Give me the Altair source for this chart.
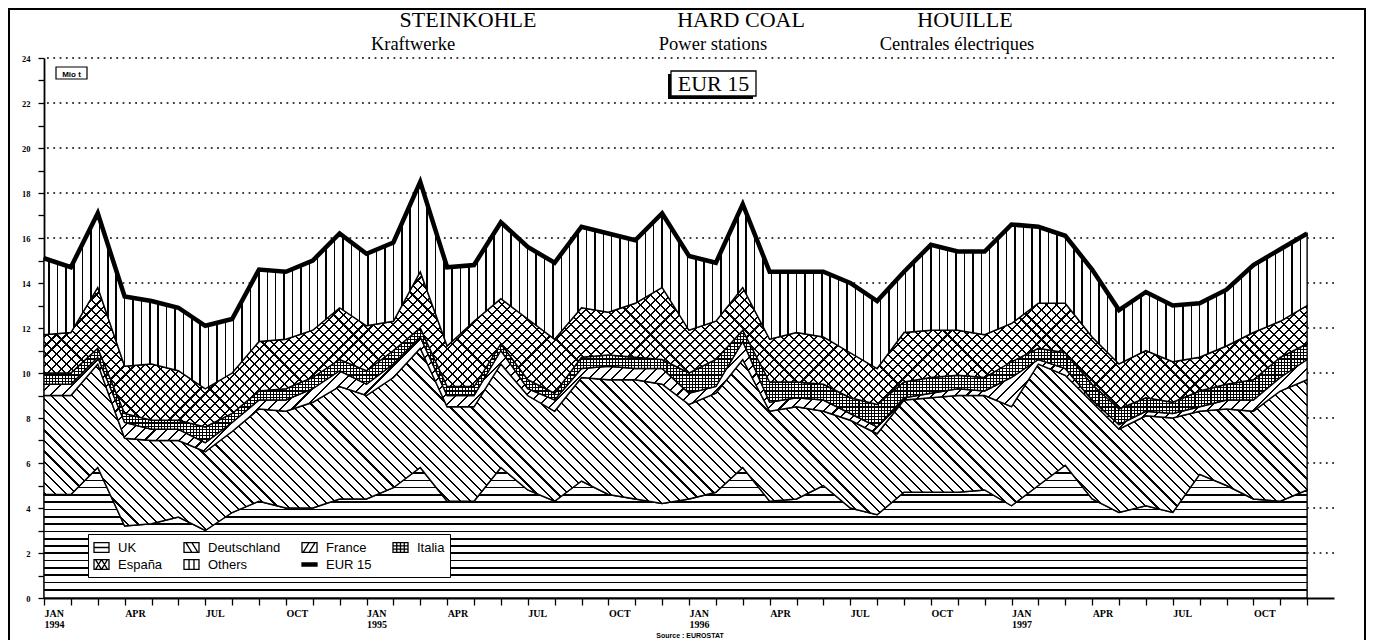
import json
import math
import numpy as np
import pandas as pd
import altair as alt

# ---------------- data (Mio t, monthly Jan 1994 - Dec 1997) ----------------
month_names = ["JAN", "FEB", "MAR", "APR", "MAY", "JUN",
               "JUL", "AUG", "SEP", "OCT", "NOV", "DEC"]
years = [1994, 1995, 1996, 1997]
series_names = ["UK", "Deutschland", "France", "Italia", "España", "Others"]

uk = [4.6, 4.6, 5.8, 3.2, 3.3, 3.6, 3.0, 3.8, 4.3, 4.0, 4.0, 4.4,
      4.4, 4.9, 5.8, 4.3, 4.3, 5.8, 4.8, 4.3, 5.2, 4.6, 4.4, 4.2,
      4.4, 4.7, 5.8, 4.3, 4.4, 5.0, 4.0, 3.7, 4.7, 4.7, 4.7, 4.8,
      4.1, 5.0, 5.9, 4.4, 3.8, 4.1, 3.8, 5.5, 5.0, 4.4, 4.3, 4.8]
deutschland = [4.4, 4.4, 4.6, 3.9, 3.7, 3.4, 3.5, 3.6, 4.1, 4.3, 4.7, 5.0,
               4.6, 4.9, 5.3, 4.2, 4.2, 4.6, 4.2, 4.0, 4.6, 5.1, 5.3, 5.3,
               4.2, 4.4, 4.8, 4.0, 4.1, 3.3, 3.9, 3.6, 4.1, 4.2, 4.3, 4.2,
               4.4, 5.4, 4.0, 4.3, 3.7, 4.0, 4.2, 2.8, 3.4, 3.9, 4.9, 4.9]
france = [0.5, 0.5, 0.3, 0.7, 0.5, 0.5, 0.4, 0.4, 0.4, 0.5, 0.6, 0.7,
          0.5, 0.6, 0.5, 0.5, 0.5, 0.6, 0.3, 0.5, 0.4, 0.6, 0.5, 0.7,
          0.5, 0.3, 0.8, 0.4, 0.4, 0.5, 0.3, 0.3, 0.1, 0.2, 0.3, 0.2,
          1.3, 0.2, 0.3, 0.1, 0.2, 0.2, 0.2, 0.2, 0.4, 0.5, 0.6, 0.9]
italia = [0.5, 0.5, 0.4, 0.4, 0.4, 0.4, 0.7, 0.4, 0.4, 0.5, 0.5, 0.5,
          0.6, 0.6, 0.4, 0.4, 0.4, 0.3, 0.4, 0.3, 0.5, 0.5, 0.5, 0.4,
          0.9, 1.2, 0.5, 0.9, 0.7, 0.7, 0.7, 1.0, 0.7, 0.7, 0.6, 0.6,
          0.7, 0.5, 0.7, 0.7, 0.7, 0.6, 0.5, 0.7, 0.7, 0.9, 0.9, 0.7]
espana = [1.7, 1.8, 2.7, 2.1, 2.5, 2.2, 1.7, 1.8, 2.2, 2.2, 2.1, 2.3,
          2.0, 1.3, 2.5, 1.8, 2.9, 2.0, 2.7, 2.4, 2.2, 1.9, 2.4, 3.2,
          1.9, 1.7, 1.9, 1.9, 2.2, 2.1, 2.0, 1.6, 2.2, 2.1, 2.0, 1.9,
          1.7, 2.0, 2.2, 2.1, 2.0, 2.1, 1.8, 1.5, 1.7, 2.1, 1.6, 1.7]
others = [3.4, 2.9, 3.3, 3.1, 2.8, 2.8, 2.8, 2.4, 3.2, 3.0, 3.1, 3.3,
          3.2, 3.5, 4.0, 3.5, 2.5, 3.4, 3.2, 3.4, 3.6, 3.5, 2.8, 3.3,
          3.3, 2.6, 3.7, 3.0, 2.7, 2.9, 3.1, 3.0, 2.7, 3.8, 3.5, 3.7,
          4.4, 3.4, 3.0, 3.0, 2.4, 2.6, 2.5, 2.4, 2.5, 3.0, 3.2, 3.2]
grid_values = [2, 4, 6, 8, 10, 12, 14, 16, 18, 20, 22, 24]

series_values = [uk, deutschland, france, italia, espana, others]
n_months = len(uk)

rows = []
for k, (name, vals) in enumerate(zip(series_names, series_values)):
    for i, v in enumerate(vals):
        rows.append({"month": i, "series": name, "value": v, "order": k})
df = pd.DataFrame(rows)

# ---------------- geometry / style ----------------
PW, PH = 1290, 540
ux = PW / 48.0
uy = PH / 24.0
W = (n_months - 1) * ux

cum = np.cumsum(np.array(series_values), axis=0)
bottoms = np.vstack([np.zeros(n_months), cum[:-1]])
bbox_h = {name: float((cum[k].max() - bottoms[k].min()) * uy)
          for k, name in enumerate(series_names)}

CLEAR = "rgba(255,255,255,0)"


def stripe_gradient(kind, h, period, lw, bg="white", first=None):
    w = W
    if kind == "h":
        x1, y1, x2, y2 = 0, 1, 0, 0
        span = h
    elif kind == "v":
        x1, y1, x2, y2 = 0, 0, 1, 0
        span = w
    else:
        r = h / w
        a = (1 + r) / (1 + r * r)
        span = (w + h) / math.sqrt(2)
        if kind == "/":
            x1, y1, x2, y2 = 0, 0, a, a * r
        else:
            x1, y1, x2, y2 = 0, 1, a, 1 - a * r
    stops = [alt.GradientStop(offset=0, color=bg)]
    p = period * 0.5 if first is None else first
    while p + lw < span:
        o1 = round(p / span, 6)
        o2 = round((p + lw) / span, 6)
        stops += [alt.GradientStop(offset=o1, color=bg),
                  alt.GradientStop(offset=o1, color="black"),
                  alt.GradientStop(offset=o2, color="black"),
                  alt.GradientStop(offset=o2, color=bg)]
        p += period
    stops.append(alt.GradientStop(offset=1, color=bg))
    return alt.LinearGradient(gradient="linear", stops=stops,
                              x1=round(x1, 6), y1=round(y1, 6),
                              x2=round(x2, 6), y2=round(y2, 6))


# ---------------- scales / axes ----------------
tick_labels = []
for i in range(n_months):
    m = i % 12
    if m == 0:
        tick_labels.append([month_names[m], str(years[i // 12])])
    elif m % 3 == 0:
        tick_labels.append(month_names[m])
    else:
        tick_labels.append("")

xscale = alt.Scale(domain=[0, 48], nice=False, zero=False)
yscale = alt.Scale(domain=[0, 24], nice=False)
xaxis = alt.Axis(values=list(range(n_months)), title=None, grid=False,
                 labelExpr=json.dumps(tick_labels) + "[datum.value]",
                 labelAlign="left", labelBaseline="top", labelPadding=3,
                 labelFont="Liberation Serif", labelFontWeight="bold",
                 labelFontSize=10, labelLineHeight=11, labelColor="black",
                 labelOverlap=False, labelFlush=False, labelBound=False,
                 tickSize=7, tickColor="black", tickWidth=1.3,
                 domainColor="black", domainWidth=1.8)
yaxis = alt.Axis(values=list(range(25)), title=None, grid=False,
                 labelExpr="datum.value % 2 == 0 ? datum.label : ''",
                 labelFont="Liberation Serif", labelFontWeight="bold",
                 labelFontSize=8.5, labelColor="black", labelPadding=8,
                 labelOverlap=False, labelFlush=False,
                 tickSize=6, tickColor="black", tickWidth=1.3,
                 domainColor="black", domainWidth=1.8)


def X(field):
    return alt.X(field, type="quantitative", scale=xscale, axis=xaxis)


def Y(field):
    return alt.Y(field, type="quantitative", scale=yscale, axis=yaxis)


base = alt.Chart(df).transform_stack(
    stack="value", groupby=["month"], as_=["y0", "y1"],
    sort=[alt.SortField("order", order="ascending")])

grid = alt.Chart(pd.DataFrame({"g": grid_values})).mark_rule(
    color="black", strokeWidth=1.6, strokeDash=[1.8, 4.5]).encode(y=Y("g"))

patterns = {
    "UK": [("h", 7.3, 1.7, "white")],
    "Deutschland": [("\\", 7.4, 1.5, "white")],
    "France": [("/", 8.2, 1.5, "white")],
    "Italia": [("h", 3.2, 1.1, "white"), ("v", 3.2, 1.1, CLEAR)],
    "España": [("\\", 7.0, 1.5, "white"), ("/", 7.0, 1.5, CLEAR)],
    "Others": [("v", 8.4, 1.5, "white")],
}

areas = []
for name in series_names:
    for j, (kind, period, lw, bg) in enumerate(patterns[name]):
        first = period if kind == "h" else None
        grad = stripe_gradient(kind, bbox_h[name], period, lw, bg, first)
        if j == 0:
            mk = base.mark_area(fill=grad, stroke="black", strokeWidth=1.4)
        else:
            mk = base.mark_area(fill=grad, strokeWidth=0)
        areas.append(mk.transform_filter(alt.datum.series == name).encode(
            x=X("month"), y=Y("y1"), y2=alt.Y2("y0")))

total = alt.Chart(df).transform_aggregate(
    total="sum(value)", groupby=["month"]).mark_line(
    color="black", strokeWidth=4.5).encode(x=X("month"), y=Y("total"))

one = alt.Data(values=[{}])


def txt(s, x, y, size, font="Liberation Serif", weight="normal"):
    return alt.Chart(one).mark_text(
        text=s, font=font, fontSize=size, fontWeight=weight, align="center",
        baseline="alphabetic", color="black").encode(
        x=alt.value(x), y=alt.value(y))


def box(x, x2, y, y2, fill, stroke=None, sw=1.0):
    kw = {"fill": fill}
    if stroke is not None:
        kw.update(stroke=stroke, strokeWidth=sw)
    return alt.Chart(one).mark_rect(**kw).encode(
        x=alt.value(x), x2=alt.value(x2), y=alt.value(y), y2=alt.value(y2))


annots = [
    txt("STEINKOHLE", 424, -31, 22),
    txt("HARD COAL", 697, -31, 22),
    txt("HOUILLE", 921, -31, 22),
    txt("Kraftwerke", 369, -8, 18.5),
    txt("Power stations", 669, -8, 18.5),
    txt("Centrales électriques", 913, -8, 18.5),
    box(624, 709, 16, 41, "black"),
    box(627, 712, 13, 38, "white", "black", 1.3),
    txt("EUR 15", 669.5, 33, 22),
    box(12, 43, 9, 21, "white", "black", 1.2),
    txt("Mio t", 27.5, 18.5, 8, "Liberation Sans", "bold"),
    txt("Source : EUROSTAT", 646, 580, 7, "Liberation Sans", "bold"),
    alt.Chart(one).mark_rect(fillOpacity=0, stroke="black", strokeWidth=2).encode(
        x=alt.value(-35), x2=alt.value(1321), y=alt.value(-49), y2=alt.value(620)),
]

legend_names = series_names + ["EUR 15"]
R = "M-1,-0.65H1V0.65H-1Z"
legend_paths = [
    R + " M-1,0H1",
    R + " M-0.75,-0.65L0.05,0.65 M0.05,-0.65L0.85,0.65",
    R + " M-0.85,0.65L-0.05,-0.65 M-0.05,0.65L0.75,-0.65",
    R + " M-0.5,-0.65V0.65 M0,-0.65V0.65 M0.5,-0.65V0.65 M-1,-0.22H1 M-1,0.22H1",
    R + " M-0.8,-0.65L0,0.65 M0,-0.65L0.8,0.65 M-0.8,0.65L0,-0.65 M0,0.65L0.8,-0.65",
    R + " M-0.33,-0.65V0.65 M0.33,-0.65V0.65",
    "M-1,-0.2H1V0.2H-1Z M-1,0H1",
]

legend_layer = alt.Chart(alt.Data(values=[{"series": n} for n in legend_names])
                         ).transform_filter("false").mark_point(
    filled=False, color="black", strokeWidth=1.3, size=225).encode(
    shape=alt.Shape("series:N",
                    scale=alt.Scale(domain=legend_names, range=legend_paths),
                    legend=alt.Legend(
                        title=None, orient="none", legendX=44, legendY=476,
                        columns=4, direction="horizontal",
                        labelFont="Liberation Sans", labelFontSize=13,
                        labelColor="black", symbolSize=225,
                        symbolStrokeWidth=1.3, symbolStrokeColor="black",
                        symbolOpacity=1,
                        strokeColor="black", fillColor="white", padding=5,
                        rowPadding=1, columnPadding=18, labelOffset=8)))

chart = alt.layer(grid, *areas, total, *annots, legend_layer).properties(
    width=PW, height=PH,
    autosize=alt.AutoSizeParams(type="none"),
    padding={"left": 36, "top": 50, "right": 33, "bottom": 42},
).configure_view(stroke=None)

chart.save("out.html", embed_options={"renderer": "svg", "actions": False})
